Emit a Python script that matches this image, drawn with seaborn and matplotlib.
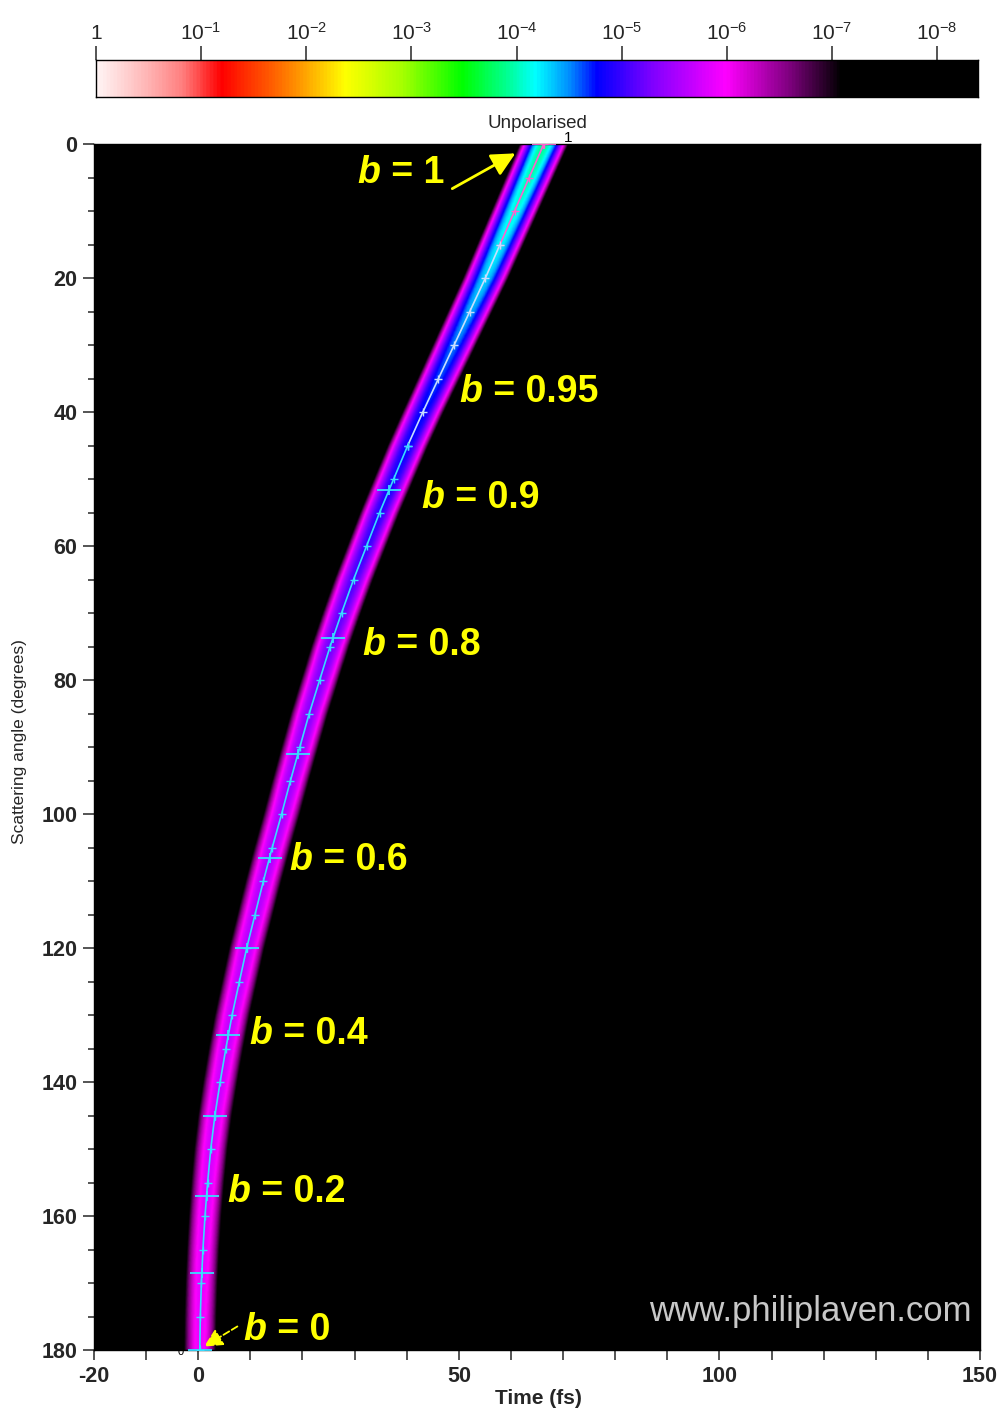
import numpy as np
import pandas as pd
import matplotlib
matplotlib.use("Agg")
import matplotlib.pyplot as plt
import seaborn as sns
from matplotlib.colors import LinearSegmentedColormap

# ---------------- data ----------------
angle_deg = [0, 5, 10, 15, 20, 25, 30, 35, 40, 45, 50, 55, 60, 65, 70, 75, 80, 85, 90,
             95, 100, 105, 110, 115, 120, 125, 130, 135, 140, 145, 150, 155, 160, 165,
             170, 175, 180]
centre_time_fs = [66.3, 63.5, 60.7, 57.9, 55.1, 52.1, 49.1, 46.1, 43.1, 40.2, 37.5, 34.8,
                  32.3, 29.8, 27.5, 25.3, 23.3, 21.3, 19.5, 17.7, 16.0, 14.2, 12.5, 10.9,
                  9.3, 7.9, 6.5, 5.3, 4.2, 3.2, 2.4, 1.8, 1.3, 0.9, 0.6, 0.4, 0.3]

profile_angle = [0, 10, 20, 30, 40, 60, 80, 100, 120, 140, 160, 180]
peak_log10 = [-3.9, -4.1, -4.3, -4.55, -4.75, -5.0, -5.3, -5.5, -5.6, -5.7, -5.8, -5.9]
half_width_fs = [4.8, 4.65, 4.5, 4.3, 4.1, 3.9, 3.8, 3.7, 3.6, 3.5, 3.35, 3.3]

b_major = [0.0, 0.1, 0.2, 0.3, 0.4, 0.5, 0.6, 0.7, 0.8, 0.9, 1.0]
b_major_angle = [180, 168.5, 157, 145, 133, 120, 106.5, 91, 73.7, 51.7, 0]
b_major_time = [0.3, 0.8, 1.6, 3.2, 5.8, 9.3, 13.7, 19.1, 25.8, 36.6, 66.3]

b_labels = ["1", "0.95", "0.9", "0.8", "0.6", "0.4", "0.2", "0"]

cbar_decades = [0, 1, 2, 3, 4, 5, 6, 7, 8]
cbar_labels = ["1", "$10^{-1}$", "$10^{-2}$", "$10^{-3}$", "$10^{-4}$",
               "$10^{-5}$", "$10^{-6}$", "$10^{-7}$", "$10^{-8}$"]

x_ticks = list(range(-20, 151, 10))
x_ticklabels = ["-20", "", "0", "", "", "", "", "50", "", "", "", "", "100",
                "", "", "", "", "150"]
y_major = list(range(0, 181, 20))
y_minor = list(range(0, 181, 5))

# ---------------- style ----------------
sns.set_style("ticks")
plt.rcParams["font.family"] = ["Liberation Sans", "DejaVu Sans"]
plt.rcParams["mathtext.default"] = "regular"

DMAX = 8.39
stops = [(0.0, "#fff4f4"), (0.45, "#ffb8b8"), (0.8, "#ff8080"), (1.18, "#ff0000"),
         (1.75, "#ff7000"), (2.1, "#ffc000"), (2.36, "#ffff00"), (2.9, "#a8ff00"),
         (3.48, "#00ff00"), (3.9, "#00ff90"), (4.18, "#00ffff"), (4.5, "#0090ff"),
         (4.77, "#0000ff"), (5.3, "#8000ff"), (6.0, "#ff00ff"), (6.6, "#800080"),
         (7.1, "#000000"), (DMAX, "#000000")]
cmap = LinearSegmentedColormap.from_list("laven", [(d / DMAX, c) for d, c in stops])

fig = plt.figure(figsize=(10.03, 14.14), dpi=100)
W, H = 1003, 1414

# ---------------- main axes ----------------
ax = fig.add_axes([94 / W, 1 - 1350 / H, (980 - 94) / W, (1350 - 144) / H])

t_grid = np.linspace(-20, 150, 1701)
a_grid = np.linspace(0, 180, 721)
centre = np.interp(a_grid, angle_deg, centre_time_fs)
peak = np.interp(a_grid, profile_angle, peak_log10)
hw = np.interp(a_grid, profile_angle, half_width_fs)
edge = -7.3
logI = peak[:, None] - (peak[:, None] - edge) * ((t_grid[None, :] - centre[:, None]) / hw[:, None]) ** 2
D = np.clip(-logI, 0, DMAX)
ax.imshow(D, cmap=cmap, vmin=0, vmax=DMAX, extent=[-20, 150, 180, 0],
          aspect="auto", interpolation="bilinear", zorder=0)

df = pd.DataFrame({"time": centre_time_fs, "angle": angle_deg})
segments = [((0, 15), "#ff5fd0"), ((15, 45), "#c8dcff"), ((45, 180), "#38dcff")]
for (a0, a1), col in segments:
    part = df[(df.angle >= a0) & (df.angle <= a1)]
    sns.lineplot(data=part, x="time", y="angle", sort=False, estimator=None,
                 color=col, lw=1.2, ax=ax, zorder=3)
    sns.scatterplot(data=part, x="time", y="angle", marker="+", s=40, color=col,
                    linewidth=1.0, ax=ax, zorder=4)

dmaj = pd.DataFrame({"b": b_major, "angle": b_major_angle, "time": b_major_time})
for (a0, a1), col in segments:
    part = dmaj[(dmaj.angle >= a0) & (dmaj.angle <= a1)]
    sns.scatterplot(data=part, x="time", y="angle", marker="_", s=300, color=col,
                    linewidth=1.3, ax=ax, zorder=4)
    sns.scatterplot(data=part, x="time", y="angle", marker="|", s=60, color=col,
                    linewidth=1.3, ax=ax, zorder=4)

ax.set_xlim(-20, 150)
ax.set_ylim(180, 0)
ax.set_facecolor("black")
ax.set_xlabel("")
ax.set_ylabel("")
ax.set_xticks(x_ticks)
ax.set_xticklabels(x_ticklabels, fontsize=15.5, fontweight="bold")
ax.set_yticks(y_major)
ax.set_yticklabels([str(v) for v in y_major], fontsize=15.5, fontweight="bold")
ax.set_yticks(y_minor, minor=True)
ax.tick_params(axis="x", which="major", direction="out", length=7.5, width=1.1, pad=4)
ax.tick_params(axis="y", which="major", direction="out", length=8, width=1.1, pad=4)
ax.tick_params(axis="y", which="minor", direction="out", length=4, width=1.1)
for s in ax.spines.values():
    s.set_color("black")
    s.set_linewidth(1)

# ---------------- b labels ----------------
yellow = "#ffff00"
px_t = lambda x: (x - 198.5) / 5.21
px_a = lambda y: (y - 144) / 6.7
label_px = [(358, 173), (460, 392), (422, 498), (363, 645), (290, 860),
            (250, 1034), (228, 1192), (244, 1330)]
for txt, (xp, yp) in zip(b_labels, label_px):
    tb = ax.text(px_t(xp), px_a(yp), "b", color=yellow, fontsize=27,
                 fontweight="bold", fontstyle="italic", ha="left", va="center", zorder=6)
    ax.annotate(" = " + txt, xy=(1, 0), xycoords=tb, color=yellow, fontsize=27,
                fontweight="bold", ha="left", va="bottom", zorder=6)

ax.annotate("", xy=(px_t(518), px_a(152)), xytext=(px_t(450), px_a(190)),
            arrowprops=dict(arrowstyle="-|>", color=yellow, lw=2, mutation_scale=36),
            zorder=6, annotation_clip=False)
ax.annotate("", xy=(px_t(202), px_a(1348)), xytext=(px_t(240), px_a(1325)),
            arrowprops=dict(arrowstyle="-|>", color=yellow, lw=1.3, ls="--",
                            mutation_scale=28), zorder=6)

ax.text(px_t(972), px_a(1312), "www.philiplaven.com", color="#c8c8c8", fontsize=25,
        ha="right", va="center", zorder=6)
ax.text(px_t(568), px_a(138), "1", color="black", fontsize=11, ha="center",
        va="center", clip_on=False)
ax.text(px_t(181), px_a(1352), "0", color="black", fontsize=8, ha="center",
        va="center", clip_on=False)

fig.text(537 / W, 1 - 123 / H, "Unpolarised", fontsize=13.5, ha="center", va="center")
fig.text(538 / W, 1 - 1398 / H, "Time (fs)", fontsize=15, fontweight="bold",
         ha="center", va="center")
fig.text(20 / W, 1 - 742 / H, "Scattering angle (degrees)", fontsize=12.5,
         rotation=90, ha="center", va="center")

# ---------------- colour bar ----------------
cax = fig.add_axes([96 / W, 1 - 97 / H, 882 / W, 37 / H])
grad = np.linspace(0, DMAX, 1000)
cax.imshow(grad[None, :], cmap=cmap, vmin=0, vmax=DMAX, extent=[0, DMAX, 0, 1],
           aspect="auto", interpolation="bilinear")
cax.set_xlim(0, DMAX)
cax.set_yticks([])
cax.xaxis.tick_top()
cax.set_xticks(cbar_decades)
cax.set_xticklabels(cbar_labels, fontsize=15)
cax.tick_params(axis="x", direction="out", length=10, width=1.1, pad=2)
for s in cax.spines.values():
    s.set_color("black")
    s.set_linewidth(1)

fig.savefig("out.png", dpi=100, facecolor="white")
